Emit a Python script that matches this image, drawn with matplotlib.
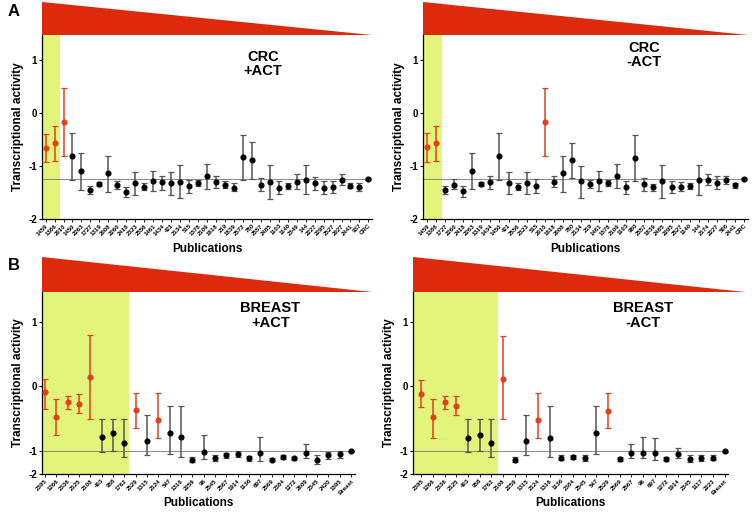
import numpy as np
import matplotlib.pyplot as plt
from matplotlib.patches import Polygon

plt.rcParams['font.family'] = ['Liberation Sans', 'DejaVu Sans']

RED = '#e2401c'
GREEN = '#e2f57a'
ERR_GREY = '#555555'

# ---- panel A, CRC +ACT ----
crc_act_labels = ['1459', '1386', '2010', '1450', '2263', '1727', '1319', '2008', '2260', '2418',
                  '2323', '2556', '1461', '1434', '421', '2134', '515', '1578', '2109', '1618',
                  '219', '1839', '2572', '780', '2557', '2485', '1103', '1140', '2349', '144',
                  '2227', '2295', '2527', '2027', '2441', '937', 'CRC']
crc_act_mean = [-0.66, -0.57, -0.17, -0.82, -1.10, -1.46, -1.34, -1.14, -1.36, -1.49,
                -1.33, -1.40, -1.28, -1.31, -1.33, -1.30, -1.38, -1.32, -1.19, -1.30,
                -1.35, -1.41, -0.84, -0.89, -1.35, -1.30, -1.41, -1.38, -1.30, -1.26,
                -1.33, -1.41, -1.40, -1.26, -1.37, -1.40, -1.25]
crc_act_lo = [-0.93, -0.91, -0.82, -1.27, -1.45, -1.53, -1.38, -1.50, -1.43, -1.58,
              -1.54, -1.46, -1.47, -1.45, -1.54, -1.60, -1.51, -1.38, -1.43, -1.41,
              -1.42, -1.48, -1.27, -1.24, -1.48, -1.62, -1.52, -1.43, -1.43, -1.53,
              -1.46, -1.52, -1.51, -1.36, -1.42, -1.48, -1.27]
crc_act_hi = [-0.39, -0.25, 0.47, -0.38, -0.75, -1.38, -1.30, -0.81, -1.29, -1.39,
              -1.12, -1.33, -1.10, -1.19, -1.12, -0.99, -1.26, -1.26, -0.97, -1.19,
              -1.28, -1.33, -0.42, -0.55, -1.23, -0.98, -1.29, -1.32, -1.16, -0.99,
              -1.21, -1.29, -1.29, -1.15, -1.33, -1.33, -1.23]
crc_act_red = ['1459', '1386', '2010']

# ---- panel A, CRC -ACT ----
crc_noact_labels = ['1459', '1386', '1727', '2260', '2418', '2263', '1319', '1434', '1450', '421',
                    '2556', '2323', '515', '2010', '1618', '2008', '780', '2134', '219', '1461',
                    '1578', '2109', '1103', '980', '2557', '1839', '2485', '2295', '2527', '1140',
                    '144', '2174', '2227', '506', '2441', 'CRC']
crc_noact_mean = [-0.65, -0.57, -1.45, -1.35, -1.48, -1.09, -1.34, -1.31, -0.82, -1.32,
                  -1.39, -1.32, -1.38, -0.17, -1.30, -1.14, -0.88, -1.29, -1.34, -1.28,
                  -1.32, -1.19, -1.40, -0.85, -1.34, -1.40, -1.29, -1.39, -1.39, -1.38,
                  -1.26, -1.26, -1.32, -1.27, -1.36, -1.24]
crc_noact_lo = [-0.93, -0.90, -1.53, -1.43, -1.58, -1.44, -1.38, -1.44, -1.26, -1.53,
                -1.46, -1.53, -1.51, -0.81, -1.40, -1.49, -1.23, -1.60, -1.41, -1.47,
                -1.38, -1.42, -1.52, -1.28, -1.47, -1.47, -1.61, -1.51, -1.47, -1.43,
                -1.54, -1.36, -1.44, -1.34, -1.41, -1.26]
crc_noact_hi = [-0.38, -0.25, -1.37, -1.25, -1.38, -0.75, -1.30, -1.18, -0.38, -1.12,
                -1.32, -1.12, -1.25, 0.47, -1.19, -0.81, -0.56, -1.00, -1.27, -1.10,
                -1.26, -0.97, -1.29, -0.42, -1.22, -1.34, -0.98, -1.28, -1.30, -1.32,
                -0.98, -1.15, -1.19, -1.19, -1.32, -1.22]
crc_noact_red = ['1459', '1386', '2010']

# ---- panel B, BREAST +ACT ----
br_act_labels = ['2395', '1266', '2336', '2125', '2108', '403', '958', '1762', '2529', '1315',
                 '2124', '547', '1316', '2259', '96', '2545', '2567', '1914', '1136', '697',
                 '2569', '2384', '1272', '2609', '2345', '2420', '1595', 'Breast']
br_act_mean = [-0.08, -0.47, -0.25, -0.28, 0.15, -0.78, -0.73, -0.88, -0.37, -0.85,
               -0.52, -0.72, -0.78, -1.38, -1.05, -1.30, -1.20, -1.15, -1.32, -1.10,
               -1.38, -1.28, -1.32, -1.10, -1.38, -1.20, -1.15, -1.02]
br_act_lo = [-0.35, -0.75, -0.35, -0.42, -0.50, -1.05, -1.00, -1.25, -0.65, -1.20,
             -0.80, -1.15, -1.25, -1.48, -1.35, -1.42, -1.30, -1.28, -1.42, -1.42,
             -1.45, -1.35, -1.38, -1.30, -1.55, -1.35, -1.30, -1.04]
br_act_hi = [0.12, -0.20, -0.15, -0.12, 0.80, -0.50, -0.50, -0.50, -0.10, -0.45,
             -0.10, -0.30, -0.30, -1.28, -0.75, -1.18, -1.10, -1.00, -1.22, -0.78,
             -1.30, -1.20, -1.26, -0.90, -1.20, -1.05, -1.00, -1.00]
br_act_red = ['2395', '1266', '2336', '2125', '2108', '2529', '2124']

# ---- panel B, BREAST -ACT ----
br_noact_labels = ['2395', '1266', '2336', '2125', '403', '958', '1762', '2108', '2259', '1315',
                   '2124', '1316', '1136', '2384', '2545', '547', '2529', '2569', '2567', '96',
                   '697', '1272', '1914', '2345', '1117', '2223', 'Breast']
br_noact_mean = [-0.12, -0.48, -0.25, -0.30, -0.80, -0.75, -0.88, 0.12, -1.38, -0.85,
                 -0.52, -0.80, -1.30, -1.28, -1.30, -0.72, -0.38, -1.35, -1.10, -1.08,
                 -1.10, -1.35, -1.15, -1.35, -1.32, -1.30, -1.02]
br_noact_lo = [-0.32, -0.80, -0.35, -0.45, -1.05, -1.00, -1.25, -0.50, -1.48, -1.20,
               -0.80, -1.25, -1.40, -1.35, -1.42, -1.15, -0.65, -1.42, -1.30, -1.30,
               -1.40, -1.45, -1.30, -1.50, -1.45, -1.40, -1.04]
br_noact_hi = [0.10, -0.20, -0.15, -0.15, -0.50, -0.50, -0.50, 0.78, -1.28, -0.45,
               -0.10, -0.30, -1.20, -1.20, -1.18, -0.30, -0.10, -1.28, -0.90, -0.78,
               -0.80, -1.25, -0.95, -1.20, -1.18, -1.20, -1.00]
br_noact_red = ['2395', '1266', '2336', '2125', '2108', '2124', '2529']

W, H = 752, 516

# panel B axis is squeezed below -1 (two-segment axis)
SQUEEZE = 0.36


def seg_fwd(y):
    y = np.asarray(y, dtype=float)
    return np.where(y >= -1, y, -1 + (y + 1) * SQUEEZE)


def seg_inv(y):
    y = np.asarray(y, dtype=float)
    return np.where(y >= -1, y, -1 + (y + 1) / SQUEEZE)


def px_axes(fig, x0, x1, y0, y1):
    return fig.add_axes([x0 / W, 1 - y1 / H, (x1 - x0) / W, (y1 - y0) / H])


def draw_panel(fig, box, tri_box, labels, mean, lo, hi, red, xlim, green_end, ref, title,
               title_xy, ylim, xpad, squeeze=False):
    ax = px_axes(fig, *box)
    if squeeze:
        ax.set_yscale('function', functions=(seg_fwd, seg_inv))
    n = len(labels)
    x = np.arange(1, n + 1)
    mean = np.array(mean)
    lo = np.array(lo)
    hi = np.array(hi)
    ax.axvspan(-1.0, green_end, color=GREEN, zorder=0, lw=0)
    ax.axhline(ref, color='#777777', lw=0.6, zorder=1)
    for i in range(n):
        c = RED if labels[i] in red else 'black'
        ec = RED if labels[i] in red else ERR_GREY
        ax.errorbar(x[i], mean[i], yerr=[[mean[i] - lo[i]], [hi[i] - mean[i]]],
                    fmt='o', color=c, ecolor=ec, ms=3.4, elinewidth=1.1, capsize=2.2,
                    capthick=0.9, zorder=3)
    ax.set_xlim(xlim[0], n + xlim[1])
    ax.set_ylim(*ylim)
    ax.set_xticks(x)
    ax.set_xticklabels(labels, rotation=45, ha='right', rotation_mode='anchor',
                       fontsize=4.4, fontweight='bold')
    ax.set_yticks([-2, -1, 0, 1])
    ax.set_yticklabels(['-2', '-1', '0', '1'], fontsize=7, fontweight='bold')
    ax.yaxis.set_minor_locator(plt.NullLocator())
    ax.tick_params(axis='x', length=2, width=0.6, pad=1)
    ax.tick_params(axis='y', length=2.5, width=0.8, pad=1)
    for s in ['top', 'right']:
        ax.spines[s].set_visible(False)
    for s in ['left', 'bottom']:
        ax.spines[s].set_linewidth(0.9)
    ax.set_ylabel('Transcriptional activity', fontsize=8.5, fontweight='bold', labelpad=3)
    ax.set_xlabel('Publications', fontsize=8.5, fontweight='bold', labelpad=xpad)
    ax.text(title_xy[0], title_xy[1], title, transform=ax.transAxes, ha='center', va='top',
            fontsize=10.5, fontweight='bold', linespacing=1.05)

    tax = px_axes(fig, *tri_box)
    tax.add_patch(Polygon([[0, 0], [0, 1], [1, 0]], closed=True, color='#dd2a0c', lw=0))
    tax.set_xlim(0, 1)
    tax.set_ylim(0, 1)
    tax.axis('off')
    return ax


fig = plt.figure(figsize=(7.52, 5.16), dpi=100)

draw_panel(fig, (42, 372, 35, 219), (42, 372, 2, 35), crc_act_labels, crc_act_mean,
           crc_act_lo, crc_act_hi, crc_act_red, (0.6, 0.4), 2.65, -1.25, 'CRC\n+ACT',
           (0.67, 0.92), (-2, 1.47), 5)
draw_panel(fig, (423, 748, 35, 219), (423, 748, 2, 35), crc_noact_labels, crc_noact_mean,
           crc_noact_lo, crc_noact_hi, crc_noact_red, (0.55, 0.45), 2.7, -1.25, 'CRC\n-ACT',
           (0.68, 0.97), (-2, 1.47), 5)
draw_panel(fig, (42, 355, 292, 474), (42, 372, 257, 292), br_act_labels, br_act_mean,
           br_act_lo, br_act_hi, br_act_red, (0.75, 0.35), 8.4, -1.02, 'BREAST\n+ACT',
           (0.73, 0.95), (-2, 1.465), 1.5, squeeze=True)
draw_panel(fig, (413, 728, 292, 474), (413, 745, 257, 292), br_noact_labels, br_noact_mean,
           br_noact_lo, br_noact_hi, br_noact_red, (0.3, 0.3), 7.6, -1.02, 'BREAST\n-ACT',
           (0.73, 0.95), (-2, 1.465), 1.5, squeeze=True)

fig.text(8 / W, 1 - 12 / H, 'A', fontsize=12, fontweight='bold', va='center')
fig.text(8 / W, 1 - 266 / H, 'B', fontsize=12, fontweight='bold', va='center')

fig.savefig('out.png', dpi=100)
